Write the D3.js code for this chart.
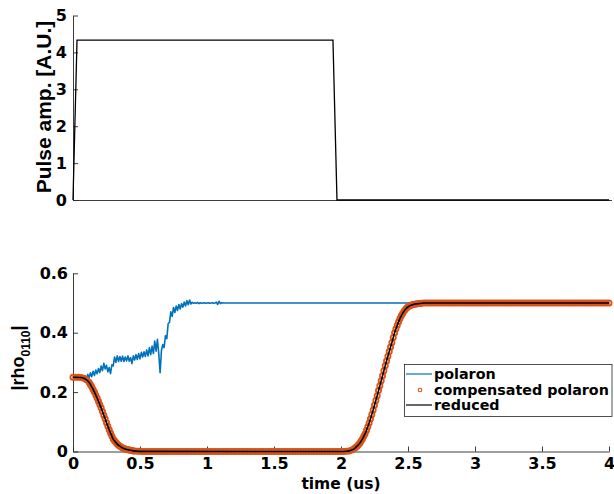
<!DOCTYPE html>
<html>
<head>
<meta charset="utf-8">
<script src="https://cdn.jsdelivr.net/npm/d3@7/dist/d3.min.js"></script>
<style>
  html, body { margin: 0; padding: 0; background: #fff; }
  svg { display: block; font-weight: bold; }
</style>
</head>
<body>
<svg id="chart" width="614" height="494"></svg>
<script>
// Control pulse envelope (time in us, amplitude in A.U.)
const pulseTime = [0, 0.03, 1.94, 1.97, 4];
const pulseAmp  = [0, 4.33, 4.33, 0, 0];

// |rho_0110| in the plain polaron frame, sampled every 0.01 us up to 1.13 us, then held
const polaronTime = [
  0.00,0.01,0.02,0.03,0.04,0.05,0.06,0.07,0.08,0.09,
  0.10,0.11,0.12,0.13,0.14,0.15,0.16,0.17,0.18,0.19,
  0.20,0.21,0.22,0.23,0.24,0.25,0.26,0.27,0.28,0.29,
  0.30,0.31,0.32,0.33,0.34,0.35,0.36,0.37,0.38,0.39,
  0.40,0.41,0.42,0.43,0.44,0.45,0.46,0.47,0.48,0.49,
  0.50,0.51,0.52,0.53,0.54,0.55,0.56,0.57,0.58,0.59,
  0.60,0.61,0.62,0.63,0.64,0.65,0.66,0.67,0.68,0.69,
  0.70,0.71,0.72,0.73,0.74,0.75,0.76,0.77,0.78,0.79,
  0.80,0.81,0.82,0.83,0.84,0.85,0.86,0.87,0.88,0.89,
  0.90,0.91,0.92,0.93,0.94,0.95,0.96,0.97,0.98,0.99,
  1.00,1.01,1.02,1.03,1.04,1.05,1.06,1.07,1.08,1.09,
  1.10,1.11,1.12,1.13,4.00
];
const polaronValues = [
  0.25,0.25,0.25,0.25,0.25,0.25,0.25,0.25,0.238,0.255,
  0.242,0.26,0.248,0.265,0.252,0.27,0.256,0.274,0.262,0.279,
  0.266,0.288,0.272,0.297,0.278,0.29,0.268,0.283,0.262,0.292,
  0.288,0.318,0.30,0.322,0.303,0.32,0.304,0.321,0.303,0.318,
  0.305,0.322,0.304,0.316,0.296,0.322,0.308,0.326,0.31,0.33,
  0.312,0.334,0.318,0.336,0.32,0.342,0.322,0.35,0.326,0.355,
  0.33,0.372,0.338,0.378,0.33,0.265,0.34,0.36,0.35,0.39,
  0.38,0.43,0.435,0.47,0.455,0.485,0.468,0.49,0.475,0.495,
  0.48,0.498,0.486,0.503,0.49,0.508,0.494,0.51,0.497,0.502,
  0.499,0.501,0.499,0.502,0.498,0.501,0.499,0.50,0.501,0.499,
  0.50,0.501,0.499,0.50,0.501,0.499,0.50,0.503,0.495,0.506,
  0.498,0.501,0.50,0.50,0.50
];

// Compensated polaron: 0.02 us sampling on the plateaus, 0.01 us through the two transitions
const compensatedTime = [].concat(
  d3.range(0, 0.11, 0.02),       // 0.00 .. 0.10
  d3.range(0.12, 0.455, 0.01),   // 0.12 .. 0.45
  d3.range(0.46, 2.09, 0.02),    // 0.46 .. 2.08
  d3.range(2.10, 2.605, 0.01),   // 2.10 .. 2.60
  d3.range(2.62, 4.01, 0.02)     // 2.62 .. 4.00
);
const compensatedValues = [
  // 0.00 .. 0.10
  0.25,0.25,0.25,0.249,0.247,0.242,
  // 0.12 .. 0.45
  0.233,0.226,0.218,0.209,0.200,0.190,0.180,0.169,0.158,0.147,
  0.135,0.122,0.110,0.097,0.085,0.073,0.062,0.052,0.042,0.036,
  0.030,0.025,0.021,0.018,0.015,0.012,0.010,0.008,0.007,0.006,
  0.005,0.004,0.003,0.002,
  // 0.46 .. 2.08
  0.0015,0.001,0.0005,
  0,0,0,0,0,0,0,0,0,0,
  0,0,0,0,0,0,0,0,0,0,
  0,0,0,0,0,0,0,0,0,0,
  0,0,0,0,0,0,0,0,0,0,
  0,0,0,0,0,0,0,0,0,0,
  0,0,0,0,0,0,0,0,0,0,
  0,0,0,0,0,0,0,0,0,0,
  0,0,0,0,0,0,
  0.001,0.002,0.005,
  // 2.10 .. 2.60
  0.010,0.014,0.018,0.023,0.028,0.035,0.042,0.051,0.060,0.071,
  0.083,0.096,0.110,0.125,0.140,0.156,0.172,0.188,0.205,0.221,
  0.238,0.255,0.272,0.289,0.305,0.321,0.337,0.352,0.367,0.384,
  0.400,0.413,0.425,0.437,0.448,0.457,0.465,0.472,0.478,0.483,
  0.487,0.490,0.492,0.494,0.495,0.496,0.497,0.4975,0.498,0.4985,
  0.499,
  // 2.62 .. 4.00
  0.5,0.5,0.5,0.5,0.5,0.5,0.5,0.5,0.5,0.5,
  0.5,0.5,0.5,0.5,0.5,0.5,0.5,0.5,0.5,0.5,
  0.5,0.5,0.5,0.5,0.5,0.5,0.5,0.5,0.5,0.5,
  0.5,0.5,0.5,0.5,0.5,0.5,0.5,0.5,0.5,0.5,
  0.5,0.5,0.5,0.5,0.5,0.5,0.5,0.5,0.5,0.5,
  0.5,0.5,0.5,0.5,0.5,0.5,0.5,0.5,0.5,0.5,
  0.5,0.5,0.5,0.5,0.5,0.5,0.5,0.5,0.5,0.5
];

// Reduced model (time in us, value)
const reducedTime = [
  0,0.06,0.08,0.10,
  0.12,0.13,0.14,0.15,0.16,0.17,0.18,0.19,0.20,0.21,0.22,0.23,0.24,0.25,0.26,0.27,
  0.28,0.29,0.30,0.31,0.32,0.33,0.34,0.35,0.36,0.37,0.38,0.39,0.40,0.42,0.45,0.50,
  2.00,2.04,2.06,2.08,
  2.10,2.11,2.12,2.13,2.14,2.15,2.16,2.17,2.18,2.19,2.20,2.21,2.22,2.23,2.24,2.25,
  2.26,2.27,2.28,2.29,2.30,2.31,2.32,2.33,2.34,2.35,2.36,2.37,2.38,2.39,2.40,2.41,
  2.42,2.43,2.44,2.45,2.46,2.47,2.48,2.49,2.50,2.52,2.54,2.56,2.58,2.60,2.62,4.00
];
const reducedValues = [
  0.25,0.249,0.247,0.242,
  0.233,0.226,0.218,0.209,0.200,0.190,0.180,0.169,0.158,0.147,0.135,0.122,0.110,0.097,0.085,0.073,
  0.062,0.052,0.042,0.036,0.030,0.025,0.021,0.018,0.015,0.012,0.010,0.008,0.007,0.005,0.002,0.0005,
  0,0.001,0.002,0.005,
  0.010,0.014,0.018,0.023,0.028,0.035,0.042,0.051,0.060,0.071,0.083,0.096,0.110,0.125,0.140,0.156,
  0.172,0.188,0.205,0.221,0.238,0.255,0.272,0.289,0.305,0.321,0.337,0.352,0.367,0.384,0.400,0.413,
  0.425,0.437,0.448,0.457,0.465,0.472,0.478,0.483,0.487,0.492,0.495,0.497,0.498,0.499,0.50,0.50
];

// Axis ticks and legend entries
const timeTicks   = [0, 0.5, 1, 1.5, 2, 2.5, 3, 3.5, 4];
const pulseTicks  = [0, 1, 2, 3, 4, 5];
const rhoTicks    = [0, 0.2, 0.4, 0.6];
const legendNames = ["polaron", "compensated polaron", "reduced"];

const BLUE = "#0072BD", ORANGE = "#D95319", AXIS = "#262626";
const WIDE = '"DejaVu Sans", Verdana, sans-serif';
const NARROW = '"Liberation Sans", Arial, Helvetica, sans-serif';

const svg = d3.select("#chart");

const x = d3.scaleLinear().domain([0, 4]).range([73, 609]);
const yPulse = d3.scaleLinear().domain([0, 5]).range([200, 15.5]);
const yRho = d3.scaleLinear().domain([0, 0.6]).range([451.5, 273.3]);

function styleAxis(g) {
  g.select(".domain").attr("stroke", AXIS).attr("stroke-width", 0.9);
  g.selectAll(".tick line").attr("stroke", AXIS).attr("stroke-width", 0.9);
  g.selectAll(".tick text").attr("fill", "#000").attr("font-size", 16).attr("font-weight", "bold")
    .attr("font-family", WIDE);
}

// ---------- top panel: pulse ----------
const topX = svg.append("g").attr("transform", `translate(0,${yPulse(0)})`)
  .call(d3.axisBottom(x).tickValues([]).tickSizeOuter(0));
styleAxis(topX);
topX.select(".domain").attr("d", `M${x(0)},0.5H612`);

const topY = svg.append("g").attr("transform", `translate(${x(0)},0)`)
  .call(d3.axisLeft(yPulse).tickValues(pulseTicks).tickFormat(d3.format("d"))
    .tickSizeInner(-5).tickSizeOuter(0).tickPadding(6));
styleAxis(topY);

const pulseLine = d3.line().x((d, i) => x(pulseTime[i])).y(d => yPulse(d));
svg.append("path").datum(pulseAmp)
  .attr("d", pulseLine).attr("fill", "none").attr("stroke", "#000").attr("stroke-width", 1.3);

svg.append("text").attr("transform", `translate(51,107) rotate(-90)`)
  .attr("text-anchor", "middle").attr("font-family", NARROW).attr("font-size", 21)
  .text("Pulse amp. [A.U.]");

// ---------- bottom panel: coherence ----------
const botX = svg.append("g").attr("transform", `translate(0,${yRho(0)})`)
  .call(d3.axisBottom(x).tickValues(timeTicks).tickFormat(d3.format("~g"))
    .tickSizeInner(-5).tickSizeOuter(0).tickPadding(6));
styleAxis(botX);

const botY = svg.append("g").attr("transform", `translate(${x(0)},0)`)
  .call(d3.axisLeft(yRho).tickValues(rhoTicks).tickFormat(d => d === 0 ? "0" : d3.format(".1f")(d))
    .tickSizeInner(-5).tickSizeOuter(0).tickPadding(5));
styleAxis(botY);

const polaronLine = d3.line().x((d, i) => x(polaronTime[i])).y(d => yRho(d));
svg.append("path").datum(polaronValues)
  .attr("d", polaronLine).attr("fill", "none").attr("stroke", BLUE).attr("stroke-width", 1.6)
  .attr("stroke-linejoin", "round");

const compensated = compensatedTime.map((t, i) => ({ t, v: compensatedValues[i] }))
  .filter(d => d.v !== undefined);
svg.append("g").selectAll("circle").data(compensated).join("circle")
  .attr("cx", d => x(d.t)).attr("cy", d => yRho(d.v))
  .attr("r", 2.6).attr("fill", "none").attr("stroke", ORANGE).attr("stroke-width", 1.8);

const reducedLine = d3.line().x((d, i) => x(reducedTime[i])).y(d => yRho(d)).curve(d3.curveMonotoneX);
svg.append("path").datum(reducedValues)
  .attr("d", reducedLine).attr("fill", "none").attr("stroke", "#000").attr("stroke-width", 1.6);

// y label |rho_0110|
const yl = svg.append("text").attr("transform", `translate(24,358) rotate(-90)`)
  .attr("text-anchor", "middle").attr("font-family", NARROW).attr("font-size", 18);
yl.append("tspan").text("|rho");
yl.append("tspan").attr("font-size", 12).attr("dy", 6).text("0110");
yl.append("tspan").attr("dy", -6).text("|");

svg.append("text").attr("x", 341).attr("y", 489).attr("text-anchor", "middle")
  .attr("font-family", WIDE).attr("font-size", 15.5).text("time (us)");

// ---------- legend ----------
const lg = svg.append("g");
lg.append("rect").attr("x", 404.5).attr("y", 364.5).attr("width", 207.5).attr("height", 52)
  .attr("fill", "#fff").attr("stroke", AXIS).attr("stroke-width", 0.8);
const rowY = [374, 390, 405];
lg.append("line").attr("x1", 406).attr("x2", 432).attr("y1", rowY[0]).attr("y2", rowY[0])
  .attr("stroke", BLUE).attr("stroke-width", 1.2);
lg.append("circle").attr("cx", 420).attr("cy", rowY[1]).attr("r", 1.8)
  .attr("fill", "none").attr("stroke", ORANGE).attr("stroke-width", 1.1);
lg.append("line").attr("x1", 406).attr("x2", 432).attr("y1", rowY[2]).attr("y2", rowY[2])
  .attr("stroke", "#000").attr("stroke-width", 1.2);
lg.selectAll("text.lab").data(legendNames).join("text").attr("class", "lab")
  .attr("x", 434).attr("y", (d, i) => rowY[i] + 5).attr("font-family", WIDE).attr("font-size", 14.3)
  .text(d => d);
</script>
</body>
</html>
